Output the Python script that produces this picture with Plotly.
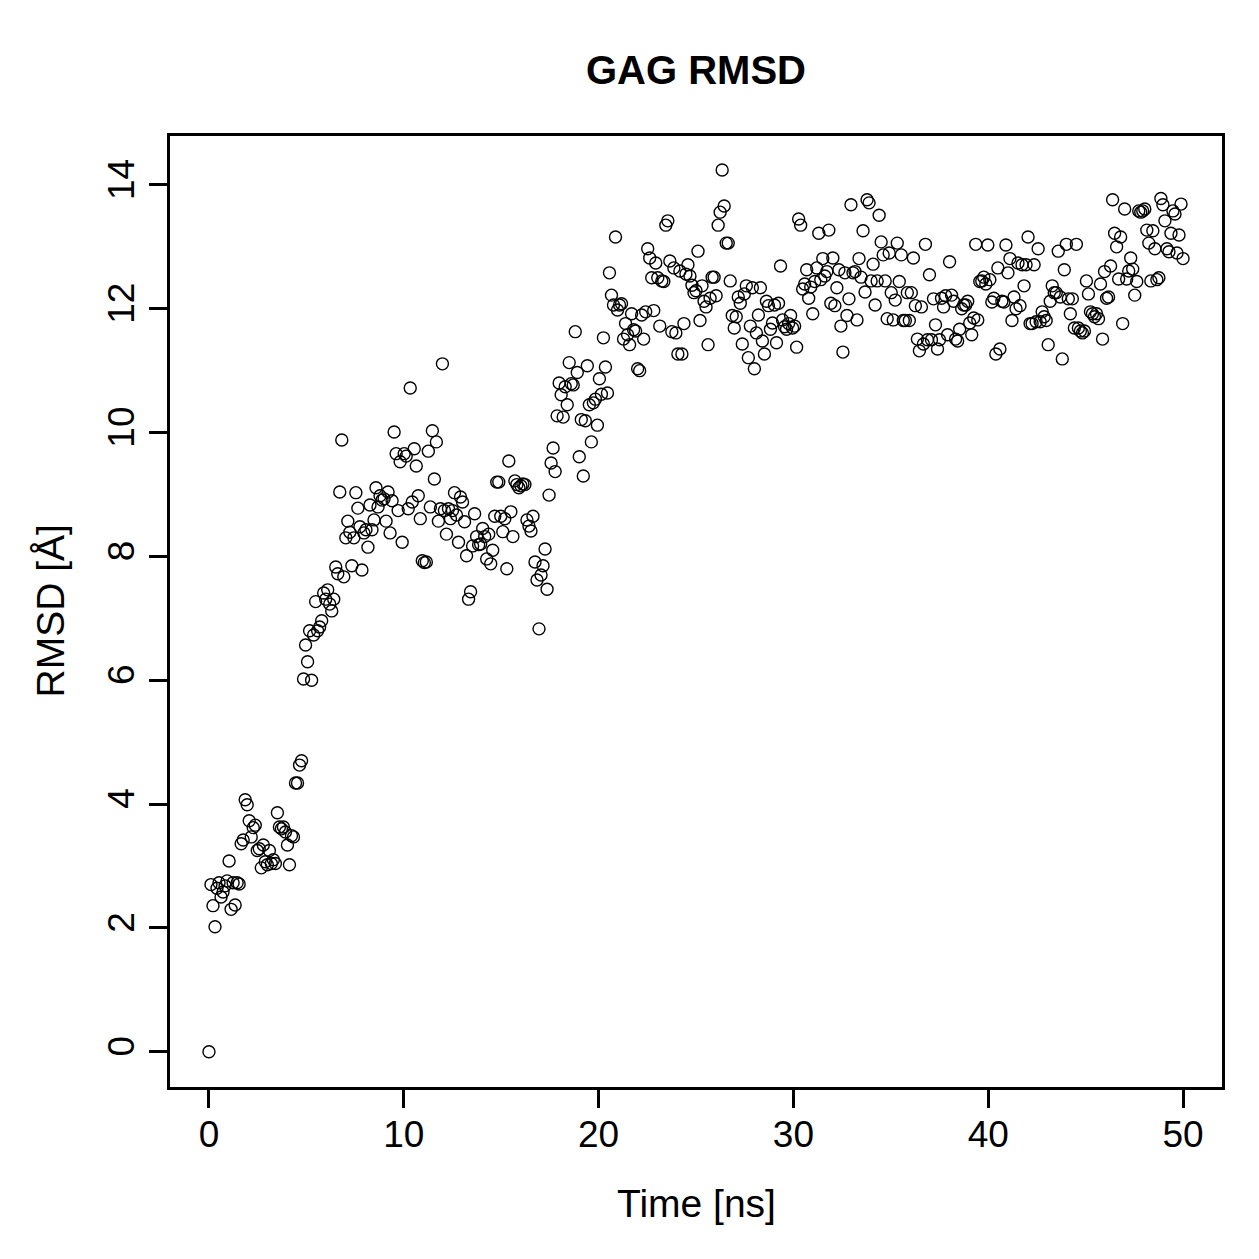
import numpy as np
import plotly.graph_objects as go

# RMSD values (Å), one per frame
rmsd_0_5 = [0.0, 2.7, 2.36, 2.02, 2.64, 2.73, 2.5, 2.58, 2.68, 2.76, 3.08, 2.3, 2.73, 2.37, 2.73, 2.71,
            3.36, 3.42, 4.07, 3.99, 3.73, 3.47, 3.62, 3.66, 3.25, 3.28, 2.97, 3.34, 3.07, 3.02, 3.25,
            3.04, 3.1, 3.04, 3.86, 3.63, 3.6, 3.63, 3.55, 3.34, 3.02, 3.49, 3.47, 4.34, 4.34, 4.63, 4.7]
rmsd_5_10 = [6.02, 6.57, 6.3, 6.8, 6.0, 6.73, 7.27, 6.8, 6.86, 6.96, 7.41, 7.31, 7.46, 7.23, 7.12, 7.31,
             7.83, 7.72, 9.04, 9.88, 7.67, 8.3, 8.57, 8.39, 7.85, 8.3, 9.03, 8.78, 8.48, 7.78, 8.38, 8.43,
             8.15, 8.83, 8.43, 8.59, 9.11, 8.8, 8.98, 8.91, 8.93, 8.57, 9.04, 8.38, 8.9, 10.01, 9.66, 8.74]
rmsd_10_20 = [9.53, 8.23, 9.66, 9.62, 8.77, 10.72, 8.88, 9.74, 9.46, 8.98, 8.61, 7.93, 7.9, 7.91, 9.7,
              8.8, 10.03, 9.25, 9.85, 8.57, 8.77, 11.11, 8.74, 8.36, 8.77, 8.61, 8.74, 9.03, 8.67, 8.23,
              8.96, 8.88, 8.56, 8.01, 7.31, 7.43, 8.17, 8.69, 8.32, 8.19, 8.2, 8.45, 8.32, 7.96, 8.36,
              7.88, 8.1, 8.65, 9.2, 9.2, 8.65, 8.4, 8.61, 7.8, 9.54, 8.72, 8.32, 9.22, 9.16, 9.11, 9.14,
              9.17, 9.16, 8.59, 8.49, 8.41, 8.65, 7.91, 7.62, 6.83, 7.7, 7.85, 8.12, 7.47, 8.99, 9.51,
              9.75, 9.37, 10.27, 10.8, 10.61, 10.25, 10.74, 10.45, 11.13, 10.79, 10.77, 11.63, 10.97,
              9.61, 10.21, 9.3, 10.19, 11.08, 10.45, 9.85, 10.48]
rmsd_20_30 = [10.54, 10.12, 10.87, 10.62, 11.53, 11.06, 10.64, 12.58, 12.22, 12.06, 13.16, 11.98, 12.06,
              12.08, 11.51, 11.76, 11.58, 11.42, 11.92, 11.66, 11.64, 11.03, 11.0, 11.9, 11.51, 11.95,
              12.97, 12.82, 12.5, 11.97, 12.74, 12.5, 11.72, 12.45, 12.44, 13.35, 13.42, 12.77, 11.63,
              12.66, 11.61, 11.27, 12.61, 11.27, 11.76, 12.56, 12.71, 12.53, 12.38, 12.26, 12.29, 12.93,
              11.81, 12.37, 12.12, 12.03, 11.42, 12.17, 12.51, 12.51, 12.21, 13.35, 13.56, 14.24, 13.66,
              13.06, 13.06, 12.45, 11.89, 11.69, 11.87, 12.19, 12.09, 11.43, 12.24, 12.37, 11.21, 11.72,
              12.34, 11.03, 11.61, 11.9, 12.34, 11.48, 11.27, 12.12, 12.05, 11.67, 11.77, 12.06, 11.45,
              12.09, 12.69, 11.82, 11.71, 11.67, 11.76, 11.89]
rmsd_30_40 = [11.69, 11.72, 11.38, 13.45, 13.35, 12.32, 12.4, 12.63, 12.17, 12.35, 11.92, 12.44, 12.66,
              13.22, 12.47, 12.81, 12.53, 12.6, 13.27, 12.09, 12.82, 12.05, 12.34, 12.63, 11.72, 11.3,
              12.58, 11.89, 12.16, 13.68, 12.58, 12.6, 11.82, 12.81, 12.51, 13.26, 12.27, 13.76, 13.71,
              12.45, 12.72, 12.06, 12.45, 13.51, 13.08, 12.87, 12.45, 11.84, 12.9, 12.26, 11.82, 12.14,
              13.06, 12.44, 12.87, 11.81, 11.81, 12.26, 11.81, 12.26, 12.82, 12.05, 11.51, 11.32, 12.03,
              11.43, 13.04, 11.5, 12.55, 11.5, 12.16, 11.74, 11.35, 11.5, 12.17, 12.03, 12.21, 11.58,
              12.76, 12.22, 12.12, 11.51, 11.48, 11.67, 12.0, 12.06, 12.06, 12.12, 11.77, 11.58, 11.85,
              13.04, 11.82, 12.44, 12.45, 12.51, 12.4, 13.03]
rmsd_40_50 = [12.47, 12.11, 12.17, 11.27, 12.66, 11.35, 12.12, 12.11, 13.03, 12.58, 12.81, 11.81, 12.19,
              12.0, 12.74, 12.05, 12.71, 12.37, 12.71, 13.16, 11.76, 11.76, 12.71, 11.79, 12.97, 11.79,
              11.95, 11.87, 11.81, 11.42, 12.12, 12.37, 12.26, 12.26, 12.93, 12.19, 11.19, 12.63, 13.04,
              12.16, 11.92, 12.16, 11.69, 13.04, 11.69, 11.64, 11.61, 11.64, 12.45, 12.24, 11.95, 11.92,
              11.87, 11.92, 11.84, 12.4, 11.51, 12.6, 12.17, 12.19, 12.69, 13.76, 13.22, 13.0, 12.48,
              13.16, 11.76, 13.61, 12.48, 12.61, 12.82, 12.64, 12.22, 12.44, 13.58, 13.56, 13.58, 13.61,
              13.27, 13.06, 12.45, 13.26, 12.97, 12.47, 12.5, 13.78, 13.68, 13.42, 12.97, 12.92, 13.22,
              13.58, 13.53, 12.9, 13.19, 13.69, 12.81]

rmsd = rmsd_0_5 + rmsd_5_10 + rmsd_10_20 + rmsd_20_30 + rmsd_30_40 + rmsd_40_50
sim_length_ns = 50.0
time_ns = np.linspace(0.0, sim_length_ns, len(rmsd))

x_ticks = [0, 10, 20, 30, 40, 50]
y_ticks = [0, 2, 4, 6, 8, 10, 12, 14]

FONT = "Liberation Sans, Arial, Helvetica, sans-serif"

fig = go.Figure()
fig.add_trace(go.Scatter(
    x=time_ns, y=rmsd, mode="markers",
    marker=dict(symbol="circle-open", size=12, color="black", line=dict(width=1.4, color="black")),
    showlegend=False,
))

fig.update_layout(
    width=1259, height=1259,
    paper_bgcolor="white", plot_bgcolor="white",
    margin=dict(l=170, r=37, t=136, b=172),
    font=dict(family=FONT, color="black", size=37),
    title=dict(text="<b>GAG RMSD</b>", x=(170 + 1222) / 2 / 1259, xanchor="center",
               y=1 - 70 / 1259, yanchor="middle", font=dict(size=40, family=FONT, color="black")),
    annotations=[
        dict(text="Time [ns]", xref="paper", yref="paper", x=0.5, y=0, yshift=-116,
             xanchor="center", yanchor="middle", showarrow=False,
             font=dict(size=39, family=FONT, color="black")),
        dict(text="RMSD [Å]", xref="paper", yref="paper", x=0, y=0.5, xshift=-120,
             xanchor="center", yanchor="middle", textangle=-90, showarrow=False,
             font=dict(size=39, family=FONT, color="black")),
    ],
)
fig.update_xaxes(
    range=[-2, 52], tickvals=x_ticks, ticktext=[str(v) for v in x_ticks],
    showgrid=False, zeroline=False,
    showline=True, linecolor="black", linewidth=2.5, mirror=True,
    ticks="outside", ticklen=18, tickwidth=2.5, tickcolor="black",
    tickfont=dict(size=37, family=FONT), ticklabelstandoff=-5,
)
fig.update_yaxes(
    range=[-0.569, 14.79], tickvals=y_ticks, ticktext=[str(v) for v in y_ticks],
    showgrid=False, zeroline=False,
    showline=True, linecolor="black", linewidth=2.5, mirror=True,
    ticks="outside", ticklen=18, tickwidth=2.5, tickcolor="black",
    tickangle=-90, tickfont=dict(size=37, family=FONT),
)

fig.write_html("out.html")
